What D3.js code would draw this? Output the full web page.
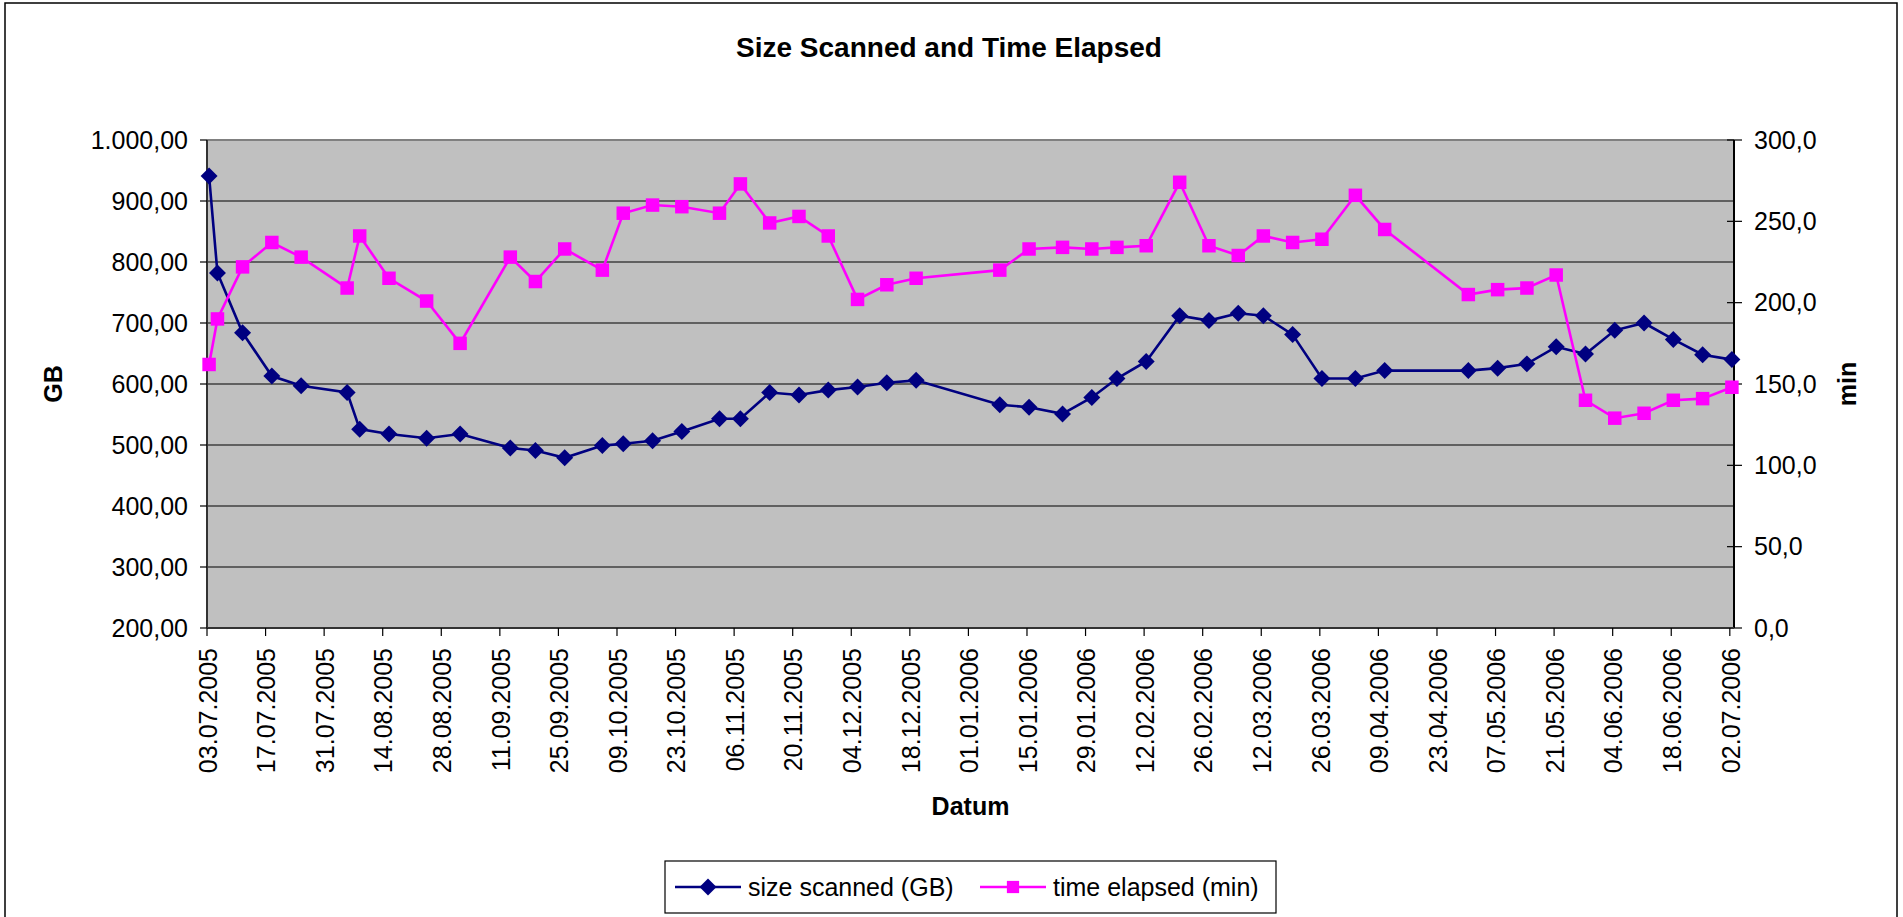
<!DOCTYPE html>
<html>
<head>
<meta charset="utf-8">
<script src="https://cdn.jsdelivr.net/npm/d3@7"></script>
<style>
body { margin: 0; background: #fff; }
text { font-family: "Liberation Sans", Arial, sans-serif; fill: #000; }
</style>
</head>
<body>
<div class="chart"></div>
<script>
// scan dates (dd.mm.yyyy)
var scanDates = [
  "03.07.2005","05.07.2005","11.07.2005","18.07.2005","25.07.2005","05.08.2005","08.08.2005","15.08.2005","24.08.2005","01.09.2005",
  "13.09.2005","19.09.2005","26.09.2005","05.10.2005","10.10.2005","17.10.2005","24.10.2005","02.11.2005","07.11.2005","14.11.2005",
  "21.11.2005","28.11.2005","05.12.2005","12.12.2005","19.12.2005",
  "08.01.2006","15.01.2006","23.01.2006","30.01.2006","05.02.2006","12.02.2006","20.02.2006","27.02.2006","06.03.2006","12.03.2006",
  "19.03.2006","26.03.2006","03.04.2006","10.04.2006",
  "30.04.2006","07.05.2006","14.05.2006","21.05.2006","28.05.2006","04.06.2006","11.06.2006","18.06.2006","25.06.2006","02.07.2006"
];

// size scanned (GB)
var sizeScanned = [
  941, 782, 684, 613, 597, 586, 526, 518, 511, 518,
  495, 491, 479, 499, 502, 507, 522, 543, 543, 586,
  582, 590, 595, 602, 606,
  566, 562, 551, 578, 609, 637, 712, 704, 716, 712,
  681, 609, 609, 622,
  622, 626, 633, 661, 649, 688, 700, 673, 648, 640
];

// time elapsed (min)
var timeElapsed = [
  162, 190, 222, 237, 228, 209, 241, 215, 201, 175,
  228, 213, 233, 220, 255, 260, 259, 255, 273, 249,
  253, 241, 202, 211, 215,
  220, 233, 234, 233, 234, 235, 274, 235, 229, 241,
  237, 239, 266, 245,
  205, 208, 209, 217, 140, 129, 132, 140, 141, 148
];

var dateTicks = [
  "03.07.2005","17.07.2005","31.07.2005","14.08.2005","28.08.2005","11.09.2005","25.09.2005","09.10.2005","23.10.2005",
  "06.11.2005","20.11.2005","04.12.2005","18.12.2005","01.01.2006","15.01.2006","29.01.2006","12.02.2006","26.02.2006",
  "12.03.2006","26.03.2006","09.04.2006","23.04.2006","07.05.2006","21.05.2006","04.06.2006","18.06.2006","02.07.2006"
];
var gbTicks = [200, 300, 400, 500, 600, 700, 800, 900, 1000];
var minTicks = [0, 50, 100, 150, 200, 250, 300];

var seriesNames = ["size scanned (GB)", "time elapsed (min)"];

var width = 1903, height = 917;
var plot = {left: 207, top: 140, right: 1734, bottom: 628};

var parseDate = d3.utcParse("%d.%m.%Y");
var de = d3.formatLocale({decimal: ",", thousands: ".", grouping: [3], currency: ["", " €"]});
var fmtGB = de.format(",.2f");
var fmtMin = de.format(",.1f");

var data = scanDates.map(function(d, i) {
  return {date: parseDate(d), gb: sizeScanned[i], min: timeElapsed[i]};
});

var svg = d3.select('.chart')
  .append('svg')
  .attr('width', width)
  .attr('height', height);

// chart border
svg.append('rect')
  .attr('x', 5).attr('y', 3)
  .attr('width', 1892).attr('height', 940)
  .attr('fill', '#fff')
  .attr('stroke', '#000')
  .attr('stroke-width', 1.5);

var x = d3.scaleUtc()
  .domain([parseDate("03.07.2005"), parseDate("03.07.2006")])
  .range([plot.left, plot.right]);

var yGB = d3.scaleLinear()
  .domain([200, 1000])
  .range([plot.bottom, plot.top]);

var yMin = d3.scaleLinear()
  .domain([0, 300])
  .range([plot.bottom, plot.top]);

// points sit in the middle of their day
function px(d) { return x(d3.utcHour.offset(d.date, 12)); }

// plot area
svg.append('rect')
  .attr('x', plot.left).attr('y', plot.top)
  .attr('width', plot.right - plot.left)
  .attr('height', plot.bottom - plot.top)
  .attr('fill', '#c0c0c0');

svg.append('g')
  .selectAll('line')
  .data(gbTicks.slice(1, -1))
  .enter().append('line')
  .attr('x1', plot.left).attr('x2', plot.right)
  .attr('y1', d => yGB(d)).attr('y2', d => yGB(d))
  .attr('stroke', '#000')
  .attr('stroke-width', 1.2);

svg.append('line')
  .attr('x1', plot.left).attr('x2', plot.right)
  .attr('y1', plot.top).attr('y2', plot.top)
  .attr('stroke', '#808080')
  .attr('stroke-width', 2);

// left axis
var left = svg.append('g');
left.append('line')
  .attr('x1', plot.left).attr('x2', plot.left)
  .attr('y1', plot.top).attr('y2', plot.bottom)
  .attr('stroke', '#333').attr('stroke-width', 2);
left.selectAll('line.tick')
  .data(gbTicks)
  .enter().append('line')
  .attr('class', 'tick')
  .attr('x1', plot.left - 7).attr('x2', plot.left)
  .attr('y1', d => yGB(d)).attr('y2', d => yGB(d))
  .attr('stroke', '#000').attr('stroke-width', 1.2);
left.selectAll('text')
  .data(gbTicks)
  .enter().append('text')
  .attr('x', 188)
  .attr('y', d => yGB(d))
  .attr('dy', '0.35em')
  .attr('text-anchor', 'end')
  .style('font-size', '25px')
  .text(d => fmtGB(d));

// right axis
var right = svg.append('g');
right.append('line')
  .attr('x1', plot.right).attr('x2', plot.right)
  .attr('y1', plot.top).attr('y2', plot.bottom)
  .attr('stroke', '#000').attr('stroke-width', 2);
right.selectAll('line.tick')
  .data(minTicks)
  .enter().append('line')
  .attr('class', 'tick')
  .attr('x1', plot.right - 7).attr('x2', plot.right + 8)
  .attr('y1', d => yMin(d)).attr('y2', d => yMin(d))
  .attr('stroke', '#000').attr('stroke-width', 1.2);
right.selectAll('text')
  .data(minTicks)
  .enter().append('text')
  .attr('x', 1754)
  .attr('y', d => yMin(d))
  .attr('dy', '0.35em')
  .style('font-size', '25px')
  .text(d => fmtMin(d));

// bottom axis
var bottom = svg.append('g');
bottom.append('line')
  .attr('x1', plot.left).attr('x2', plot.right)
  .attr('y1', plot.bottom).attr('y2', plot.bottom)
  .attr('stroke', '#333').attr('stroke-width', 2);
bottom.selectAll('line.tick')
  .data(dateTicks)
  .enter().append('line')
  .attr('class', 'tick')
  .attr('x1', d => x(parseDate(d))).attr('x2', d => x(parseDate(d)))
  .attr('y1', plot.bottom).attr('y2', plot.bottom + 8)
  .attr('stroke', '#000').attr('stroke-width', 1.2);
bottom.selectAll('text')
  .data(dateTicks)
  .enter().append('text')
  .attr('transform', d => `translate(${x(parseDate(d)) + 1}, 648) rotate(-90)`)
  .attr('dy', '0.35em')
  .attr('text-anchor', 'end')
  .style('font-size', '25px')
  .text(d => d);

// series
var lineGB = d3.line().x(px).y(d => yGB(d.gb));
var lineMin = d3.line().x(px).y(d => yMin(d.min));

svg.append('path')
  .datum(data)
  .attr('d', lineGB)
  .attr('fill', 'none')
  .attr('stroke', '#000080')
  .attr('stroke-width', 2.6);

svg.append('g')
  .selectAll('path')
  .data(data)
  .enter().append('path')
  .attr('d', d3.symbol(d3.symbolSquare, 144))
  .attr('transform', d => `translate(${px(d)}, ${yGB(d.gb)}) rotate(45)`)
  .attr('fill', '#000080');

svg.append('path')
  .datum(data)
  .attr('d', lineMin)
  .attr('fill', 'none')
  .attr('stroke', '#ff00ff')
  .attr('stroke-width', 2.6);

svg.append('g')
  .selectAll('path')
  .data(data)
  .enter().append('path')
  .attr('d', d3.symbol(d3.symbolSquare, 182))
  .attr('transform', d => `translate(${px(d)}, ${yMin(d.min)})`)
  .attr('fill', '#ff00ff');

// titles
svg.append('text')
  .attr('x', 949).attr('y', 57)
  .attr('text-anchor', 'middle')
  .style('font-size', '28px').style('font-weight', 'bold')
  .text('Size Scanned and Time Elapsed');

svg.append('text')
  .attr('transform', `translate(53, ${(plot.top + plot.bottom) / 2}) rotate(-90)`)
  .attr('dy', '0.35em')
  .attr('text-anchor', 'middle')
  .style('font-size', '25px').style('font-weight', 'bold')
  .text('GB');

svg.append('text')
  .attr('transform', `translate(1847, ${(plot.top + plot.bottom) / 2}) rotate(-90)`)
  .attr('dy', '0.35em')
  .attr('text-anchor', 'middle')
  .style('font-size', '25px').style('font-weight', 'bold')
  .text('min');

svg.append('text')
  .attr('x', (plot.left + plot.right) / 2).attr('y', 815)
  .attr('text-anchor', 'middle')
  .style('font-size', '25px').style('font-weight', 'bold')
  .text('Datum');

// legend
var legend = svg.append('g');
legend.append('rect')
  .attr('x', 665).attr('y', 861)
  .attr('width', 611).attr('height', 52)
  .attr('fill', '#fff')
  .attr('stroke', '#000').attr('stroke-width', 1.2);

var legendItems = [
  {name: seriesNames[0], x: 675, color: '#000080', size: 144, rot: 45},
  {name: seriesNames[1], x: 980, color: '#ff00ff', size: 150, rot: 0}
];
var li = legend.selectAll('g.item')
  .data(legendItems)
  .enter().append('g')
  .attr('class', 'item')
  .attr('transform', d => `translate(${d.x}, 887)`);
li.append('line')
  .attr('x1', 0).attr('x2', 66)
  .attr('stroke', d => d.color).attr('stroke-width', 2.6);
li.append('path')
  .attr('d', d => d3.symbol(d3.symbolSquare, d.size)())
  .attr('transform', d => `translate(33, 0) rotate(${d.rot})`)
  .attr('fill', d => d.color);
li.append('text')
  .attr('x', 73)
  .attr('dy', '0.35em')
  .style('font-size', '25px')
  .text(d => d.name);
</script>
</body>
</html>
